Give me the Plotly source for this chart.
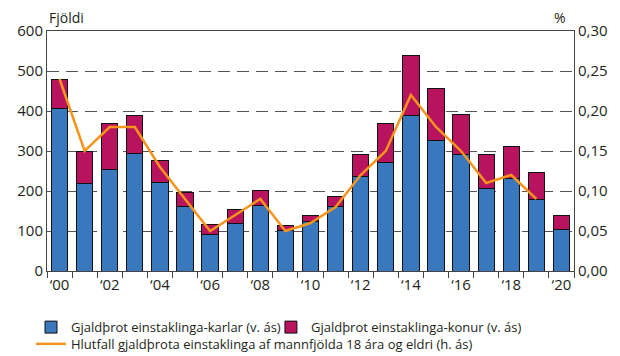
import plotly.graph_objects as go

years = list(range(2000, 2021))
men = [407, 219, 254, 294, 222, 161, 92, 119, 164, 101, 123, 162, 237, 272, 388, 327, 292, 207, 231, 180, 104]
women = [71, 81, 114, 95, 54, 36, 25, 35, 38, 13, 17, 24, 55, 96, 152, 130, 99, 85, 81, 67, 36]
ratio = [0.24, 0.15, 0.18, 0.18, 0.13, 0.09, 0.05, 0.07, 0.09, 0.05, 0.06, 0.08, 0.12, 0.15,
         0.22, 0.18, 0.15, 0.11, 0.12, 0.09, None]
tick_years = list(range(2000, 2021, 2))
tick_text = ["\u2018" + str(y)[2:] for y in tick_years]

BLUE = "#3a78bd"
MAGENTA = "#b8135e"
ORANGE = "#f7941d"
TEXT = "#231f20"
FONT = "Open Sans"

fig = go.Figure()
fig.add_trace(go.Bar(x=years, y=men, name="Gjaldþrot einstaklinga-karlar (v. ás)",
                     marker=dict(color=BLUE, line=dict(color="#111", width=1)), width=0.65,
                     legend="legend"))
fig.add_trace(go.Bar(x=years, y=women, name="Gjaldþrot einstaklinga-konur (v. ás)",
                     marker=dict(color=MAGENTA, line=dict(color="#111", width=1)), width=0.65,
                     legend="legend3"))
fig.add_trace(go.Scatter(x=years, y=ratio, name="Hlutfall gjaldþrota einstaklinga af mannfjölda 18 ára og eldri (h. ás)",
                         mode="lines", line=dict(color=ORANGE, width=2.5), yaxis="y2",
                         legend="legend2"))

legend_common = dict(orientation="h", xref="container", yref="container",
                     xanchor="left", yanchor="middle",
                     font=dict(size=13, color=TEXT), traceorder="normal",
                     itemwidth=30, bgcolor="rgba(0,0,0,0)")

fig.update_layout(
    width=620, height=356,
    margin=dict(l=47, r=44, t=31, b=85),
    barmode="stack",
    plot_bgcolor="white", paper_bgcolor="white",
    separators=",.",
    font=dict(family=FONT, size=15, color=TEXT),
    showlegend=True,
    legend=dict(x=0.05, y=0.081, **legend_common),
    legend3=dict(x=0.437, y=0.081, **legend_common),
    legend2=dict(x=0.05, y=0.034, **legend_common),
    xaxis=dict(range=[1999.5, 2020.5], tickmode="array", tickvals=tick_years, ticktext=tick_text,
               ticks="", showgrid=False, showline=True, linecolor="#444", linewidth=1, mirror=True,
               minor=dict(tickmode="linear", tick0=1999.5, dtick=1, ticks="outside",
                          ticklen=6, tickcolor="#444", tickwidth=1, showgrid=False),
               tickfont=dict(size=15), zeroline=False),
    yaxis=dict(range=[0, 600], dtick=100, showgrid=True, gridcolor="#555", griddash="12px,7px",
               gridwidth=1, showline=True, linecolor="#444", linewidth=1, ticks="",
               zeroline=False, tickfont=dict(size=15)),
    yaxis2=dict(range=[0, 0.30], dtick=0.05, tickformat=".2f", overlaying="y", side="right",
                showgrid=False, showline=True, linecolor="#444", linewidth=1, ticks="",
                zeroline=False, tickfont=dict(size=15)),
    annotations=[
        dict(text="Fjöldi", xref="paper", yref="paper", x=0, y=1, xanchor="left", yanchor="bottom",
             yshift=2, showarrow=False, font=dict(size=14, color=TEXT)),
        dict(text="%", xref="paper", yref="paper", x=1, y=1, xanchor="right", yanchor="bottom",
             xshift=-6, yshift=2, showarrow=False, font=dict(size=14, color=TEXT)),
    ],
)

fig.write_html("out.html")
